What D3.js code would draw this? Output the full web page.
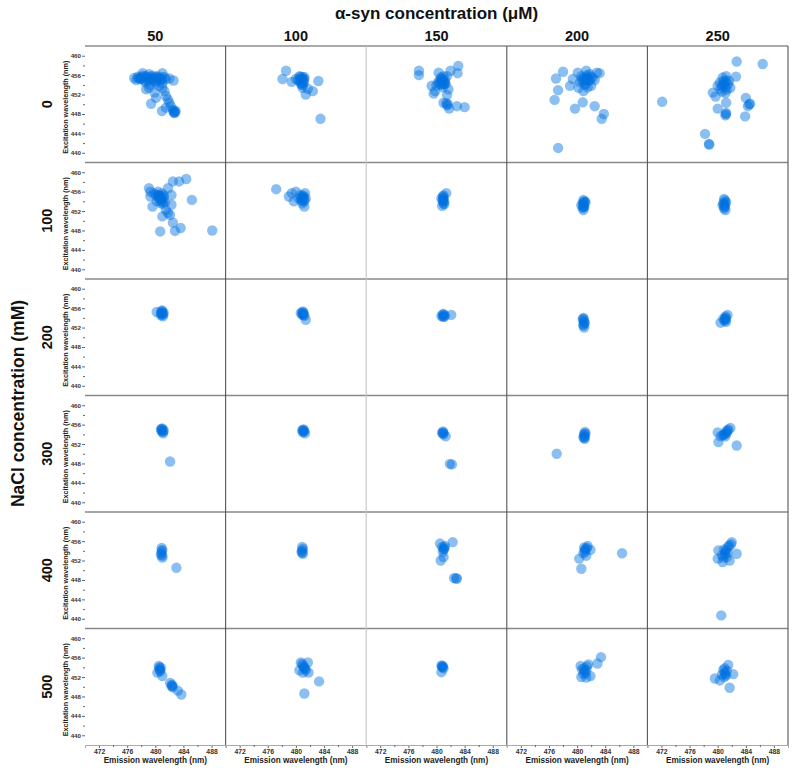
<!DOCTYPE html>
<html><head><meta charset="utf-8">
<script src="https://cdn.jsdelivr.net/npm/d3@7/dist/d3.min.js"></script>
<style>body{margin:0;background:#fff}svg{display:block;font-family:"Liberation Sans",Arial,sans-serif}</style>
</head><body><svg id="c" width="795" height="770"></svg>
<script>
const naclLevels = ["0","100","200","300","400","500"];
const synLevels = ["50","100","150","200","250"];
const xTicks = [472,476,480,484,488];
const xMinor = [474,478,482,486];
const yTicks = [440,444,448,452,456,460];
const yMinor = [442,446,450,454,458];

// [emission, excitation] per panel
const nacl0_syn50 = [[477.0,455.4],[477.5,455.7],[478.0,455.5],[478.2,456.4],[478.7,455.8],[479.1,456.2],[479.4,455.2],[479.9,455.5],[480.1,454.8],[480.6,455.7],[481.0,456.4],[481.5,455.2],[482.0,455.3],[482.6,454.9],[477.3,455.0],[477.8,455.2],[478.4,455.0],[478.9,455.3],[479.6,455.9],[480.3,455.4],[480.8,455.0],[481.3,455.6],[478.6,454.5],[479.2,454.0],[478.7,453.1],[479.1,453.4],[479.9,452.4],[480.1,451.3],[481.0,453.4],[481.3,452.7],[481.5,451.7],[481.8,451.0],[482.0,450.3],[482.2,449.6],[482.5,448.9],[482.7,448.2],[482.9,448.6],[482.6,448.4],[479.4,450.1],[480.95,448.6],[481.5,449.3],[480.5,453.8],[481.0,454.3],[478.0,455.3],[478.5,455.6],[479.0,455.0],[479.6,455.3],[480.2,455.8],[480.6,455.2],[479.3,455.6],[478.2,455.9],[481.0,455.3],[480.0,454.3],[482.7,448.6],[482.8,448.3],[477.6,455.4],[479.8,454.8]];
const nacl0_syn100 = [[478.6,456.9],[478.1,455.2],[479.4,454.6],[480.0,455.2],[480.5,455.8],[480.9,455.6],[481.1,454.8],[480.7,454.3],[480.95,453.4],[481.7,453.2],[482.4,452.7],[481.4,452.0],[483.2,454.8],[483.5,447.0],[480.3,455.0],[480.8,455.1],[481.2,455.6],[480.6,454.7],[481.0,454.0],[480.7,455.0],[481.0,455.3],[480.6,455.6],[481.1,454.4],[480.8,454.0],[481.2,455.2]];
const nacl0_syn150 = [[477.5,456.9],[477.5,456.0],[479.3,453.8],[479.8,452.7],[480.3,456.5],[480.6,455.5],[481.0,455.8],[481.2,455.0],[481.5,455.8],[482.0,456.9],[483.1,457.9],[483.0,456.4],[481.7,453.1],[479.6,452.2],[481.5,451.9],[481.0,450.3],[481.5,449.8],[481.8,449.1],[482.9,449.6],[484.0,449.4],[480.2,454.5],[480.7,454.0],[481.1,454.6],[480.5,455.0],[481.3,454.2],[480.0,453.9],[480.9,453.5],[480.6,454.6],[480.9,454.9],[481.2,454.3],[480.4,454.2],[480.8,455.3],[481.0,454.1],[481.6,450.0],[481.4,450.2]];
const nacl0_syn200 = [[478.0,456.7],[477.0,455.3],[477.3,452.9],[476.8,450.9],[479.0,453.8],[479.7,449.1],[480.8,450.4],[482.5,449.6],[483.8,448.0],[483.5,447.0],[477.3,441.0],[479.4,455.2],[480.1,456.5],[481.3,456.9],[482.8,456.5],[483.2,456.4],[480.9,452.7],[482.0,453.8],[480.4,454.5],[481.0,455.0],[481.5,455.5],[482.2,455.4],[480.6,455.8],[481.8,456.2],[481.2,454.2],[480.2,453.4],[482.5,455.0],[481.5,453.5],[481.0,455.5],[481.3,455.2],[481.6,454.8],[480.8,454.7],[482.0,455.7],[481.4,456.0],[480.7,455.2],[481.8,455.0],[481.1,454.0]];
const nacl0_syn250 = [[472.1,450.5],[482.7,458.8],[486.4,458.3],[482.6,455.7],[479.3,452.4],[479.7,451.6],[480.0,449.1],[481.2,450.3],[481.2,448.2],[481.1,447.7],[484.0,451.3],[484.3,449.6],[484.6,450.1],[483.9,447.5],[478.2,443.9],[478.8,441.7],[478.75,441.8],[480.3,454.5],[480.7,455.5],[481.2,455.8],[481.6,454.8],[481.8,453.4],[480.4,453.2],[481.1,452.3],[480.0,453.8],[480.8,454.0],[481.3,453.0],[480.6,452.6],[480.8,454.8],[481.0,454.4],[480.6,453.7],[481.2,454.9],[481.5,454.2],[481.1,453.5],[481.15,448.0],[484.5,450.0]];

const nacl100_syn50 = [[479.1,456.7],[479.3,456.0],[479.8,455.6],[480.4,456.0],[481.0,455.6],[481.8,456.7],[482.5,458.1],[483.4,458.1],[484.4,458.6],[482.3,455.3],[485.2,454.3],[479.6,452.9],[480.4,454.9],[481.0,454.0],[481.5,452.2],[482.1,451.2],[481.0,450.9],[482.5,449.6],[483.6,448.5],[482.8,447.9],[480.7,447.8],[488.1,448.0],[482.3,453.3],[481.8,451.6],[480.2,454.0],[479.3,455.0],[480.6,455.2],[481.2,454.8],[480.8,453.6],[481.4,453.8],[480.1,455.4],[480.8,455.0],[481.0,454.5],[480.5,454.6],[481.2,455.2],[480.7,454.2],[481.1,453.5],[480.4,455.3]];
const nacl100_syn100 = [[477.2,456.5],[479.0,455.0],[479.4,455.7],[480.0,456.0],[480.7,454.3],[481.3,455.7],[481.2,452.9],[479.7,454.0],[480.6,455.3],[481.0,454.8],[481.2,454.0],[480.4,454.6],[480.9,453.6],[481.4,454.6],[481.0,455.2],[481.2,454.4],[480.8,454.9],[481.1,455.0],[480.9,454.1]];
const nacl100_syn150 = [[481.0,455.2],[480.9,454.4],[481.0,453.6],[480.8,453.1],[481.4,455.7],[481.1,454.0],[480.7,454.6],[481.0,454.8],[480.9,454.0],[481.1,453.4],[480.9,455.0],[481.0,454.3]];
const nacl100_syn200 = [[480.9,454.3],[480.8,453.5],[481.0,452.8],[480.9,452.2],[481.2,453.8],[480.6,453.2],[481.1,454.0],[480.9,453.9],[481.0,453.0],[480.8,452.6],[481.0,453.6],[480.9,452.9]];
const nacl100_syn250 = [[480.9,454.5],[480.8,453.6],[481.0,452.8],[481.1,452.2],[480.7,453.2],[481.2,453.9],[481.0,454.2],[480.9,453.4],[481.0,453.0],[481.1,453.6],[480.9,452.5]];

const nacl200_syn50 = [[481.0,455.5],[480.9,454.8],[481.1,454.3],[480.2,455.2],[481.2,455.0],[480.8,454.5],[481.0,455.1],[480.9,455.4],[481.1,454.7],[480.8,455.0]];
const nacl200_syn100 = [[481.0,455.3],[480.9,454.6],[481.1,455.0],[481.4,453.6],[480.7,455.0],[481.2,454.4],[481.0,454.8],[480.9,455.1],[481.1,454.6]];
const nacl200_syn150 = [[481.0,454.8],[480.9,454.2],[482.1,454.6],[480.7,454.4],[481.2,454.5],[481.0,454.4],[480.9,454.7],[481.1,454.2]];
const nacl200_syn200 = [[480.9,454.0],[481.0,453.3],[480.9,452.6],[481.0,452.0],[480.8,453.6],[481.1,452.9],[480.9,453.8],[481.0,453.0],[480.9,452.4]];
const nacl200_syn250 = [[481.1,454.3],[481.0,453.6],[480.4,453.0],[481.4,454.6],[481.2,453.2],[480.8,453.8],[481.1,454.0],[481.0,453.4],[481.2,453.8]];

const nacl300_syn50 = [[481.0,455.2],[480.9,454.6],[481.1,454.2],[480.8,455.0],[481.2,454.8],[482.1,448.4],[481.0,454.9],[480.9,455.1],[481.1,454.5]];
const nacl300_syn100 = [[481.1,455.0],[481.0,454.4],[481.2,454.7],[480.9,454.8],[481.3,454.2],[481.1,454.6],[481.0,454.9]];
const nacl300_syn150 = [[480.9,454.6],[481.0,454.0],[481.3,453.6],[480.8,454.3],[482.2,447.8],[481.9,447.9],[481.0,454.4],[480.9,454.2]];
const nacl300_syn200 = [[481.1,454.5],[481.0,453.8],[481.1,453.1],[481.2,454.2],[480.9,453.4],[477.1,450.0],[481.0,454.1],[481.1,453.6],[481.0,453.3]];
const nacl300_syn250 = [[480.0,454.4],[480.1,452.4],[480.7,453.8],[481.4,454.8],[481.8,455.3],[481.1,453.6],[482.7,451.7],[481.3,454.3],[480.4,453.6],[481.0,454.1],[481.2,454.6],[481.5,455.0],[480.9,453.9]];

const nacl400_syn50 = [[480.9,454.6],[480.9,453.9],[480.8,453.2],[481.0,452.6],[481.0,454.2],[483.0,450.5],[480.9,453.5],[481.0,453.0]];
const nacl400_syn100 = [[480.9,454.8],[480.9,454.1],[481.0,453.4],[480.8,453.8],[481.0,454.4],[480.9,453.6]];
const nacl400_syn150 = [[480.5,455.5],[482.3,455.8],[481.1,454.4],[480.6,452.0],[481.0,452.7],[482.9,448.3],[482.5,448.4],[480.9,453.8],[481.2,455.0],[480.8,454.8],[481.0,454.3],[481.1,454.7],[482.8,448.3]];
const nacl400_syn200 = [[481.1,454.2],[481.9,454.2],[480.3,452.4],[480.6,450.3],[486.4,453.5],[481.3,453.0],[481.0,454.7],[481.5,455.0],[480.9,453.5],[481.2,454.4],[481.1,453.8],[481.4,454.6]];
const nacl400_syn250 = [[482.0,455.8],[482.7,453.4],[480.1,454.1],[480.0,452.4],[480.7,451.7],[481.7,452.0],[481.1,453.8],[481.5,454.8],[480.6,453.1],[481.3,452.7],[480.5,440.7],[481.9,455.3],[480.9,454.3],[481.2,454.2],[481.0,453.3],[481.4,453.6],[480.8,452.6],[481.6,455.1]];

const nacl500_syn50 = [[480.6,453.6],[480.5,454.3],[480.3,452.9],[481.0,452.2],[482.1,450.8],[482.5,449.9],[482.4,450.4],[483.2,449.2],[483.7,448.4],[480.8,453.9],[480.7,453.2],[482.3,450.2],[480.6,454.0],[480.7,453.4],[482.4,450.1]];
const nacl500_syn100 = [[481.2,453.9],[480.5,453.4],[481.7,455.0],[481.8,452.9],[480.7,455.0],[481.2,448.6],[483.3,451.1],[481.0,454.4],[481.4,453.4],[481.0,452.9],[481.1,454.1],[481.3,453.7],[480.9,454.7]];
const nacl500_syn150 = [[480.8,454.2],[480.7,453.0],[480.9,454.0],[480.7,454.4],[481.0,453.8],[480.8,454.1],[480.9,454.3]];
const nacl500_syn200 = [[481.0,453.2],[483.4,456.1],[482.9,454.8],[481.3,451.9],[480.5,454.3],[481.9,452.2],[480.9,452.6],[481.6,454.6],[480.7,453.6],[481.3,453.4],[480.6,452.0],[481.0,453.8],[481.2,452.8],[481.4,454.2]];
const nacl500_syn250 = [[481.0,452.9],[479.6,451.7],[480.3,451.3],[481.5,454.5],[482.2,452.6],[481.7,449.8],[480.8,453.5],[481.2,452.3],[480.6,452.5],[481.3,453.3],[481.0,453.8],[481.1,452.6],[480.9,452.0]];

const grid = [
  [nacl0_syn50, nacl0_syn100, nacl0_syn150, nacl0_syn200, nacl0_syn250],
  [nacl100_syn50, nacl100_syn100, nacl100_syn150, nacl100_syn200, nacl100_syn250],
  [nacl200_syn50, nacl200_syn100, nacl200_syn150, nacl200_syn200, nacl200_syn250],
  [nacl300_syn50, nacl300_syn100, nacl300_syn150, nacl300_syn200, nacl300_syn250],
  [nacl400_syn50, nacl400_syn100, nacl400_syn150, nacl400_syn200, nacl400_syn250],
  [nacl500_syn50, nacl500_syn100, nacl500_syn150, nacl500_syn200, nacl500_syn250]
];

const svg = d3.select("#c");
const L = 85, T = 46, R = 788, B = 745;
const pw = (R - L) / synLevels.length, ph = (B - T) / naclLevels.length;
const x = d3.scaleLinear().domain([470, 490]).range([0, pw]);
const y = d3.scaleLinear().domain([438, 462]).range([ph, 0]);

// titles
svg.append("text").attr("x", (L + R) / 2).attr("y", 19).attr("text-anchor", "middle")
  .attr("font-size", 17).attr("font-weight", "bold").attr("fill", "#111").text("α-syn concentration (μM)");
synLevels.forEach((s, c) => {
  svg.append("text").attr("x", L + c * pw + pw / 2).attr("y", 41).attr("text-anchor", "middle")
    .attr("font-size", 14.5).attr("font-weight", "bold").attr("fill", "#111").text(s);
});
svg.append("text").attr("transform", `translate(24,${(T + B) / 2 + 8}) rotate(-90)`).attr("text-anchor", "middle")
  .attr("font-size", 17.5).attr("font-weight", "bold").attr("fill", "#111").text("NaCl concentration (mM)");

svg.append("defs").append("clipPath").attr("id", "pc").append("rect").attr("width", pw).attr("height", ph);

naclLevels.forEach((n, r) => {
  const gy = T + r * ph;
  svg.append("text").attr("transform", `translate(52,${gy + ph / 2}) rotate(-90)`).attr("text-anchor", "middle")
    .attr("font-size", 14.5).attr("font-weight", "bold").attr("fill", "#111").text(n);
  svg.append("text").attr("transform", `translate(68,${gy + ph / 2 + 3}) rotate(-90)`).attr("text-anchor", "middle")
    .attr("font-size", 7.2).attr("font-weight", "bold").attr("fill", "#222").text("Excitation wavelength (nm)");
  // y axis
  const ya = svg.append("g").attr("transform", `translate(${L},${gy})`);
  ya.call(d3.axisLeft(y).tickValues(yTicks).tickSize(3).tickPadding(1).tickFormat(d3.format("d")));
  ya.append("g").call(d3.axisLeft(y).tickValues(yMinor).tickSize(2).tickFormat(""));
  ya.selectAll(".domain").remove();
  ya.selectAll("line").attr("stroke", "#666");
  ya.selectAll("text").attr("font-size", 6.2).attr("font-weight", "bold").attr("fill", "#333")
    .attr("font-family", "Liberation Sans, Arial, sans-serif");

  synLevels.forEach((s, c) => {
    const gx = L + c * pw;
    const g = svg.append("g").attr("transform", `translate(${gx},${gy})`);
    g.append("g").attr("clip-path", "url(#pc)").selectAll("circle").data(grid[r][c]).join("circle")
      .attr("cx", d => x(d[0])).attr("cy", d => y(d[1])).attr("r", 5.2)
      .attr("fill", "#0070e0").attr("fill-opacity", 0.45);
    if (r === naclLevels.length - 1) {
      const xa = svg.append("g").attr("transform", `translate(${gx},${B})`);
      xa.call(d3.axisBottom(x).tickValues(xTicks).tickSize(3).tickPadding(1).tickFormat(d3.format("d")));
      xa.append("g").call(d3.axisBottom(x).tickValues(xMinor).tickSize(2).tickFormat(""));
      xa.selectAll(".domain").attr("stroke", "#aaa");
      xa.selectAll("line").attr("stroke", "#666");
      xa.selectAll("text").attr("font-size", 6.8).attr("font-weight", "bold").attr("fill", "#333")
        .attr("font-family", "Liberation Sans, Arial, sans-serif");
      svg.append("text").attr("x", gx + pw / 2).attr("y", 763).attr("text-anchor", "middle")
        .attr("font-size", 8.2).attr("font-weight", "bold").attr("fill", "#222").text("Emission wavelength (nm)");
    }
  });
});

// grid lines
for (let r = 1; r < naclLevels.length; r++) {
  svg.append("line").attr("x1", L).attr("x2", R).attr("y1", T + r * ph).attr("y2", T + r * ph)
    .attr("stroke", "#888").attr("stroke-width", 1.5);
}
svg.append("line").attr("x1", L).attr("x2", R).attr("y1", T).attr("y2", T).attr("stroke", "#555").attr("stroke-width", 1.2);
for (let c = 1; c <= synLevels.length; c++) {
  svg.append("line").attr("x1", L + c * pw).attr("x2", L + c * pw).attr("y1", T).attr("y2", B)
    .attr("stroke", c === 2 ? "#c4c4c4" : "#555").attr("stroke-width", 1.1);
}
</script></body></html>
